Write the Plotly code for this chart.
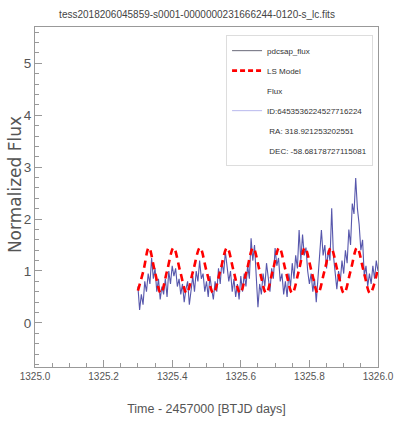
import plotly.graph_objects as go

title_text = "tess2018206045859-s0001-0000000231666244-0120-s_lc.fits"

time = [1325.300, 1325.305, 1325.310, 1325.315, 1325.320, 1325.325, 1325.330, 1325.335, 1325.340, 1325.345,
        1325.350, 1325.355, 1325.360, 1325.365, 1325.370, 1325.375, 1325.380, 1325.385, 1325.390, 1325.395,
        1325.400, 1325.405, 1325.410, 1325.415, 1325.420, 1325.425, 1325.430, 1325.435, 1325.440, 1325.445,
        1325.450, 1325.455, 1325.460, 1325.465, 1325.470, 1325.475, 1325.480, 1325.485, 1325.490, 1325.495,
        1325.500, 1325.505, 1325.510, 1325.515, 1325.520, 1325.525, 1325.530, 1325.535, 1325.540, 1325.545,
        1325.550, 1325.555, 1325.560, 1325.565, 1325.570, 1325.575, 1325.580, 1325.585, 1325.590, 1325.595,
        1325.600, 1325.605, 1325.610, 1325.615, 1325.620, 1325.625, 1325.630, 1325.635, 1325.640, 1325.645,
        1325.650, 1325.655, 1325.660, 1325.665, 1325.670, 1325.675, 1325.680, 1325.685, 1325.690, 1325.695,
        1325.700, 1325.705, 1325.710, 1325.715, 1325.720, 1325.725, 1325.730, 1325.735, 1325.740, 1325.745,
        1325.750, 1325.755, 1325.760, 1325.765, 1325.770, 1325.775, 1325.780, 1325.785, 1325.790, 1325.795,
        1325.800, 1325.805, 1325.810, 1325.815, 1325.820, 1325.825, 1325.830, 1325.835, 1325.840, 1325.845,
        1325.850, 1325.855, 1325.860, 1325.865, 1325.870, 1325.875, 1325.880, 1325.885, 1325.890, 1325.895,
        1325.900, 1325.905, 1325.910, 1325.915, 1325.920, 1325.925, 1325.930, 1325.935, 1325.940, 1325.945,
        1325.950, 1325.955, 1325.960, 1325.965, 1325.970, 1325.975, 1325.980, 1325.985, 1325.990, 1325.995,
        1326.000]

flux = [0.70, 0.25, 0.55, 0.35, 0.80, 0.60, 0.95, 0.75, 1.25, 0.85,
        1.05, 0.60, 0.85, 0.45, 0.70, 0.55, 0.85, 0.50, 1.00, 0.75,
        1.10, 0.90, 1.05, 0.70, 0.85, 0.55, 0.75, 0.40, 0.65, 0.80,
        0.35, 0.70, 0.90, 0.60, 1.00, 0.80, 1.20, 0.85, 0.95, 0.60,
        0.80, 0.50, 0.90, 0.65, 0.45, 0.80, 0.60, 1.05, 0.75, 1.20,
        0.95, 1.37, 1.10, 0.80, 1.00, 0.60, 0.85, 0.50, 0.75, 0.45,
        0.90, 0.60, 0.95, 0.70, 1.10, 0.85, 1.63, 1.20, 1.50, 0.90,
        0.30, 0.75, 0.55, 0.95, 0.70, 1.15, 0.80, 0.60, 1.05, 0.85,
        1.44, 1.10, 1.25, 0.80, 0.95, 0.55, 0.80, 0.50, 0.95, 0.70,
        1.15, 0.85, 1.30, 1.05, 1.79, 1.20, 1.70, 1.30, 1.45, 1.00,
        0.75, 0.95, 0.60, 0.85, 0.40, 0.90, 1.20, 1.79, 1.30, 1.50,
        1.05, 1.40, 1.20, 2.21, 1.30, 0.90, 0.65, 1.00, 0.80, 1.20,
        0.95, 1.40, 1.15, 1.80, 1.50, 2.30, 2.10, 2.79, 2.20, 1.90,
        1.40, 1.60, 0.90, 1.10, 0.70, 0.95, 0.75, 1.10, 0.85, 1.20,
        1.00]

model_time = [1325.300, 1325.316, 1325.332, 1325.349, 1325.367, 1325.385, 1325.404, 1325.423, 1325.442, 1325.461,
              1325.481, 1325.500, 1325.520, 1325.540, 1325.560, 1325.579, 1325.598, 1325.617, 1325.636, 1325.655,
              1325.674, 1325.693, 1325.712, 1325.731, 1325.750, 1325.769, 1325.787, 1325.806, 1325.825, 1325.844,
              1325.863, 1325.882, 1325.901, 1325.920, 1325.939, 1325.958, 1325.977, 1326.000]
model_flux = [0.62, 1.00, 1.45, 1.00, 0.57, 1.00, 1.45, 1.00, 0.57, 1.00,
              1.45, 1.00, 0.57, 1.00, 1.45, 1.00, 0.57, 1.00, 1.45, 1.00,
              0.57, 1.00, 1.45, 1.00, 0.57, 1.00, 1.45, 1.00, 0.57, 1.00,
              1.45, 1.00, 0.57, 1.00, 1.45, 1.00, 0.57, 1.05]

flux_label_lines = ["Flux", "ID:6453536224527716224", " RA: 318.921253202551", " DEC: -58.68178727115081"]

FONT = "Liberation Sans, Arial, sans-serif"
CLEAR = "rgba(0,0,0,0)"

fig = go.Figure()
fig.add_trace(go.Scatter(x=time, y=flux, mode="lines", showlegend=False,
                         line=dict(color="#3a3a9e", width=1.1), opacity=0.85))
fig.add_trace(go.Scatter(x=model_time, y=model_flux, mode="lines", name="LS Model",
                         line=dict(color="red", width=2.6, dash="7px,5px", shape="spline", smoothing=1.0),
                         showlegend=False))
# legend entries
fig.add_trace(go.Scatter(x=[None], y=[None], mode="lines", name="pdcsap_flux", legendgroup="a",
                         line=dict(color="#6a6a7a", width=1)))
fig.add_trace(go.Scatter(x=[None], y=[None], mode="lines", name="LS Model", legendgroup="b",
                         line=dict(color="red", width=2.6, dash="5px,3px")))
for i, txt in enumerate(flux_label_lines):
    fig.add_trace(go.Scatter(x=[None], y=[None], mode="lines", name=txt, legendgroup="f%d" % i,
                             line=dict(color="#b8b8ee" if i == 1 else CLEAR, width=1)))

axis_common = dict(showline=True, linecolor="#999999", linewidth=1, mirror=True,
                   ticks="inside", tickcolor="#999999", showgrid=False, zeroline=False)

fig.update_layout(
    width=394, height=425,
    margin=dict(l=35, r=16, t=27, b=58, autoexpand=False),
    paper_bgcolor="white", plot_bgcolor="white",
    title=dict(text=title_text, x=0.5, xanchor="center", y=0.967, yanchor="middle",
               font=dict(family=FONT, size=10, color="#444444")),
    xaxis=dict(range=[1325.0, 1326.0], dtick=0.2, tick0=1325.0, tickformat=".1f",
               ticklen=7, minor=dict(dtick=0.05, ticks="inside", ticklen=4, tickcolor="#999999"),
               tickfont=dict(family=FONT, size=10, color="#555555"),
               ticklabeloverflow="allow",
               title=dict(text="Time - 2457000 [BTJD days]", standoff=23,
                          font=dict(family=FONT, size=12.5, color="#555555")),
               **axis_common),
    yaxis=dict(range=[-0.85, 5.7], dtick=1, tick0=0, ticklen=7,
               minor=dict(dtick=0.2, ticks="inside", ticklen=4, tickcolor="#999999"),
               tickfont=dict(family=FONT, size=13.5, color="#555555"),
               **axis_common),
    legend=dict(x=0.557, y=0.976, xanchor="left", yanchor="top",
                bgcolor="white", bordercolor="#dddddd", borderwidth=1,
                font=dict(family=FONT, size=8.0, color="#333333"),
                tracegroupgap=1, itemwidth=30),
    annotations=[dict(text="Normalized Flux", textangle=-90, showarrow=False,
                      xref="paper", x=0, xshift=-20, xanchor="center",
                      yref="paper", y=0.535, yanchor="middle",
                      font=dict(family="DejaVu Sans", size=17, color="#555555"))],
)

fig.write_html("out.html", config={"displayModeBar": False},
               post_script="document.body.style.margin='0';document.documentElement.style.overflow='hidden';")
